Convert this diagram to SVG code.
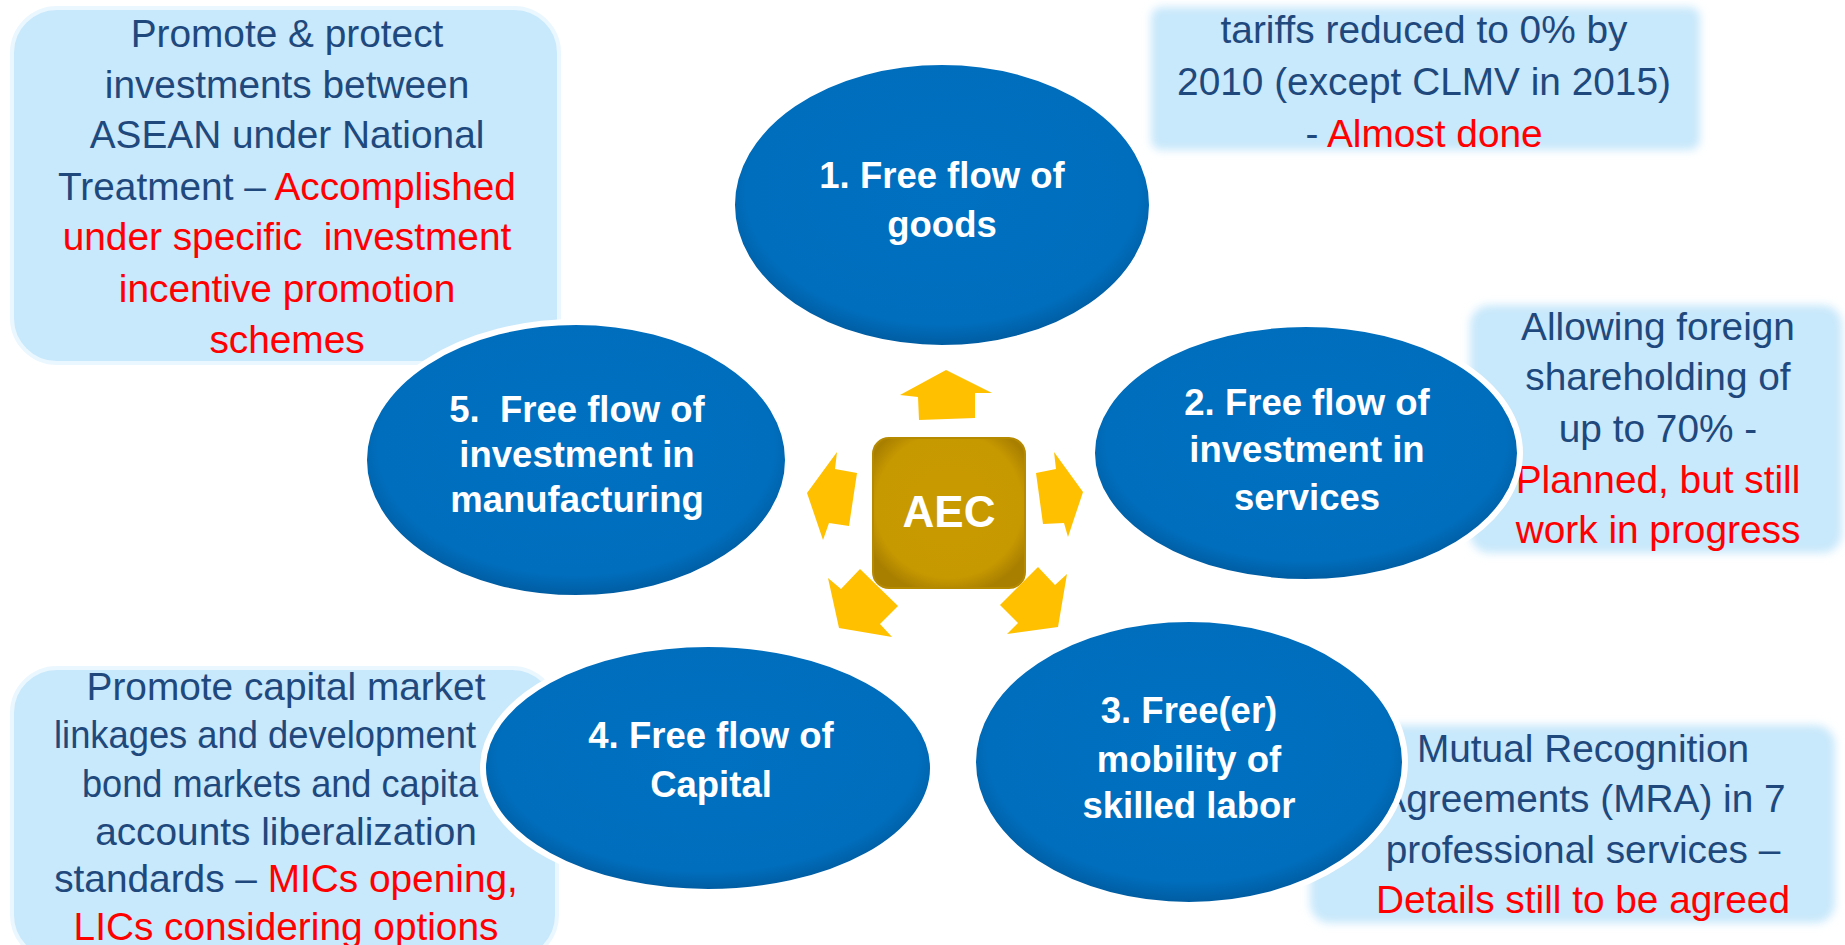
<svg xmlns="http://www.w3.org/2000/svg" width="1845" height="945" viewBox="0 0 1845 945">
<defs>
<style>
.box{fill:#C8E8FB}
.bev{stroke:#EAF7FE;stroke-width:4}
.c{font-family:"Liberation Sans",Arial,sans-serif;font-size:38.8px;fill:#1F497D;text-anchor:middle}
.s{text-anchor:start}
.r{fill:#FF0000}
.e{font-family:"Liberation Sans",Arial,sans-serif;font-weight:bold;font-size:36.5px;fill:#FFFFFF;text-anchor:middle}
.ell{fill:url(#blue);stroke:#FFFFFF;stroke-width:6}
.arr{fill:#FFC000}
</style>
<radialGradient id="blue" cx="50%" cy="45%" r="55%">
<stop offset="0" stop-color="#0070C0"/>
<stop offset="0.85" stop-color="#006EBD"/>
<stop offset="1" stop-color="#005A9E"/>
</radialGradient>
<radialGradient id="gold" cx="50%" cy="45%" r="60%">
<stop offset="0" stop-color="#C99A00"/>
<stop offset="0.8" stop-color="#C79900"/>
<stop offset="1" stop-color="#A97F00"/>
</radialGradient>
<filter id="soft" x="-5%" y="-10%" width="110%" height="120%">
<feGaussianBlur stdDeviation="4"/>
</filter>
</defs>
<rect width="1845" height="945" fill="#FFFFFF"/>

<g id="box-investment-manufacturing">
<rect class="box bev" x="12" y="8" width="547" height="355" rx="45"/>
<text class="c" x="287" y="47">Promote &amp; protect</text>
<text class="c" x="287" y="98">investments between</text>
<text class="c" x="287" y="148">ASEAN under National</text>
<text class="c" x="287" y="200">Treatment – <tspan class="r">Accomplished</tspan></text>
<text class="c r" x="287" y="250" xml:space="preserve">under specific  investment</text>
<text class="c r" x="287" y="302">incentive promotion</text>
<text class="c r" x="287" y="353">schemes</text>
</g>

<g id="box-goods">
<rect class="box" x="1151" y="7" width="549" height="143" rx="10" filter="url(#soft)"/>
<text class="c" x="1424" y="43">tariffs reduced to 0% by</text>
<text class="c" x="1424" y="95">2010 (except CLMV in 2015)</text>
<text class="c" x="1424" y="147">- <tspan class="r">Almost done</tspan></text>
</g>

<g id="box-services">
<rect class="box" x="1470" y="305" width="372" height="248" rx="20" filter="url(#soft)"/>
<text class="c" x="1658" y="340">Allowing foreign</text>
<text class="c" x="1658" y="390">shareholding of</text>
<text class="c" x="1658" y="442">up to 70% -</text>
<text class="c r" x="1658" y="493">Planned, but still</text>
<text class="c r" x="1658" y="543">work in progress</text>
</g>

<g id="box-labor">
<rect class="box" x="1310" y="725" width="525" height="198" rx="20" filter="url(#soft)"/>
<text class="c" x="1583" y="762">Mutual Recognition</text>
<text class="c" x="1583" y="812">Agreements (MRA) in 7</text>
<text class="c" x="1583" y="863">professional services –</text>
<text class="c r" x="1583" y="913">Details still to be agreed</text>
</g>

<g id="box-capital">
<rect class="box bev" x="12" y="668" width="545" height="292" rx="45"/>
<text class="c" x="286" y="700">Promote capital market</text>
<text class="c s" x="54" y="748" textLength="422" lengthAdjust="spacingAndGlyphs">linkages and development</text>
<text class="c s" x="82" y="797" textLength="396" lengthAdjust="spacingAndGlyphs">bond markets and capita</text>
<text class="c" x="286" y="845">accounts liberalization</text>
<text class="c" x="286" y="892">standards – <tspan class="r">MICs opening,</tspan></text>
<text class="c r" x="286" y="940">LICs considering options</text>
</g>

<g id="node-goods">
<ellipse class="ell" cx="942" cy="205" rx="210" ry="143"/>
<text class="e" x="942" y="188">1. Free flow of</text>
<text class="e" x="942" y="237">goods</text>
</g>

<g id="node-services">
<ellipse class="ell" cx="1306" cy="453" rx="214" ry="129"/>
<text class="e" x="1307" y="415">2. Free flow of</text>
<text class="e" x="1307" y="462">investment in</text>
<text class="e" x="1307" y="510">services</text>
</g>

<g id="node-labor">
<ellipse class="ell" cx="1189" cy="762" rx="216" ry="143"/>
<text class="e" x="1189" y="723">3. Free(er)</text>
<text class="e" x="1189" y="772">mobility of</text>
<text class="e" x="1189" y="818">skilled labor</text>
</g>

<g id="node-capital">
<ellipse class="ell" cx="708" cy="768" rx="225" ry="124"/>
<text class="e" x="711" y="748">4. Free flow of</text>
<text class="e" x="711" y="797">Capital</text>
</g>

<g id="node-manufacturing">
<ellipse class="ell" cx="576" cy="460" rx="212" ry="138"/>
<text class="e" x="577" y="422" xml:space="preserve">5.  Free flow of</text>
<text class="e" x="577" y="467">investment in</text>
<text class="e" x="577" y="512">manufacturing</text>
</g>

<g id="node-aec">
<rect x="873" y="438" width="152" height="150" rx="16" fill="url(#gold)" stroke="#B58900" stroke-width="2"/>
<text x="949" y="527" font-family="Liberation Sans, Arial, sans-serif" font-weight="bold" font-size="44" fill="#FFFFFF" text-anchor="middle">AEC</text>
</g>

<g id="connectors">
<polygon class="arr" points="946,370 992,393 975,393 975,418 919,420 918,397 900,395"/>
<polygon class="arr" points="807,493 837,452 835,469 857,473 849,526 829,523 823,540"/>
<polygon class="arr" points="1036,473 1056,469 1054,452 1083,492 1068,537 1064,523 1043,524"/>
<polygon class="arr" points="839,628 828,578 841,589 860,569 898,606 880,624 892,637"/>
<polygon class="arr" points="1058,627 1067,574 1055,585 1038,567 1000,605 1018,623 1007,634"/>
</g>
</svg>
